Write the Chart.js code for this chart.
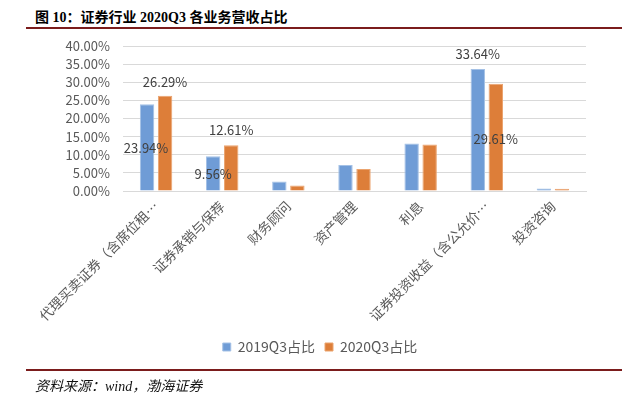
<!DOCTYPE html>
<html>
<head>
<meta charset="utf-8">
<script src="https://cdn.jsdelivr.net/npm/chart.js@4.4.8/dist/chart.umd.min.js"></script>
<style>
  html, body { margin: 0; padding: 0; background: #fff; }
  #wrap { position: relative; width: 640px; height: 399px; overflow: hidden; }
  #shareChart { position: absolute; left: 0; top: 0; }
  .title { position: absolute; left: 35px; top: 6px; font: bold 14px "Liberation Serif", "Noto Sans CJK SC", serif; color: #000; white-space: nowrap; }
  .rule { position: absolute; left: 26px; width: 596px; height: 2px; background: #7b1c1c; }
  .source { position: absolute; left: 35px; top: 375px; font: italic 14px "Liberation Serif", "Noto Sans CJK SC", serif; color: #111; white-space: nowrap; }
</style>
</head>
<body>
<div id="wrap">
  <div class="title">图 10：证券行业 2020Q3 各业务营收占比</div>
  <div class="rule" style="top:27px"></div>
  <canvas id="shareChart" width="640" height="399"></canvas>
  <div class="rule" style="top:369px"></div>
  <div class="source">资料来源：wind，渤海证券</div>
</div>
<script>
const categories = ["代理买卖证券（含席位租…", "证券承销与保荐", "财务顾问", "资产管理", "利息", "证券投资收益（含公允价…", "投资咨询"];
const share2019 = [23.94, 9.56, 2.6, 7.2, 13.1, 33.64, 0.7];
const share2020 = [26.29, 12.61, 1.5, 6.1, 12.8, 29.61, 0.6];
const yTicks = [0, 5, 10, 15, 20, 25, 30, 35, 40];

// which values carry a label, and where it sits relative to the bar top
const labelSpots = [
  { ds: 0, i: 0, dx: -1, dy: 44 },
  { ds: 1, i: 0, dx: 0, dy: -14 },
  { ds: 0, i: 1, dx: 0, dy: 18 },
  { ds: 1, i: 1, dx: 0, dy: -15 },
  { ds: 0, i: 5, dx: 0, dy: -15 },
  { ds: 1, i: 5, dx: 0, dy: 55 }
];

const FONT = '"Noto Sans CJK SC", sans-serif';
const GREY = "#595959";

const valueLabels = {
  id: "valueLabels",
  afterDatasetsDraw(chart) {
    const ctx = chart.ctx;
    ctx.save();
    ctx.font = "13px " + FONT;
    ctx.fillStyle = "#404040";
    ctx.textAlign = "center";
    ctx.textBaseline = "middle";
    labelSpots.forEach((s) => {
      const bar = chart.getDatasetMeta(s.ds).data[s.i];
      const v = chart.data.datasets[s.ds].data[s.i];
      ctx.fillText(v.toFixed(2) + "%", bar.x + s.dx, bar.y + s.dy);
    });
    ctx.restore();
  }
};

new Chart(document.getElementById("shareChart"), {
  type: "bar",
  data: {
    labels: categories,
    datasets: [
      {
        label: "2019Q3占比",
        data: share2019,
        backgroundColor: "#6f9cd6",
        borderColor: "#a4c1e6",
        borderWidth: 1
      },
      {
        label: "2020Q3占比",
        data: share2020,
        backgroundColor: "#dd7e39",
        borderColor: "#eba46f",
        borderWidth: 1
      }
    ]
  },
  options: {
    responsive: false,
    animation: false,
    layout: { padding: { top: 46, left: 0, right: 0, bottom: 35 } },
    datasets: { bar: { categoryPercentage: 0.545, barPercentage: 0.8 } },
    plugins: {
      legend: {
        position: "bottom",
        labels: {
          boxWidth: 8,
          boxHeight: 8,
          padding: 10,
          color: GREY,
          font: { family: FONT, size: 14 }
        }
      },
      tooltip: { enabled: false }
    },
    scales: {
      x: {
        grid: { display: false, drawTicks: false },
        border: { display: true, color: "#d9d9d9", width: 1 },
        ticks: {
          autoSkip: false,
          minRotation: 45,
          maxRotation: 45,
          padding: 7,
          color: GREY,
          font: { family: FONT, size: 13.5 }
        },
        afterFit(scale) { scale.height = 139; }
      },
      y: {
        min: 0,
        max: 40,
        afterBuildTicks(scale) { scale.ticks = yTicks.map((v) => ({ value: v })); },
        grid: { color: "#d9d9d9", lineWidth: 1, drawTicks: false },
        border: { display: false },
        ticks: {
          autoSkip: false,
          padding: 13,
          color: GREY,
          font: { family: FONT, size: 13 },
          callback: (v) => v.toFixed(2) + "%"
        },
        afterFit(scale) { scale.width = 123; }
      },
      // empty right-hand gutter so the legend centres on the full width
      gutter: {
        position: "right",
        min: 0,
        max: 1,
        grid: { display: false, drawTicks: false },
        border: { display: false },
        ticks: { display: false },
        afterFit(scale) { scale.width = 54; }
      }
    }
  },
  plugins: [valueLabels]
});
</script>
</body>
</html>
